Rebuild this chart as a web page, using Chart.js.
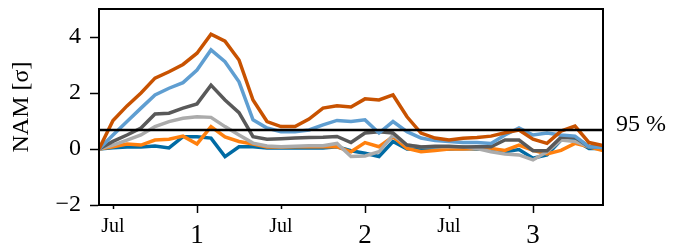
<!DOCTYPE html>
<html>
<head>
<meta charset="utf-8">
<script src="https://cdn.jsdelivr.net/npm/chart.js@4"></script>
<style>
  html, body { margin: 0; padding: 0; background: #fff; }
  canvas { display: block; }
</style>
</head>
<body>
<canvas id="nam" width="680" height="244"></canvas>
<script>
// monthly values in units of sigma, first point is June of year 0
const darkOrange = [0, 1.02, 1.54, 2.0, 2.53, 2.76, 3.02, 3.42, 4.1, 3.85, 3.18, 1.75, 0.98, 0.8, 0.8, 1.07, 1.46, 1.54, 1.5, 1.79, 1.75, 1.93, 1.15, 0.57, 0.39, 0.32, 0.38, 0.41, 0.46, 0.58, 0.68, 0.35, 0.2, 0.64, 0.82, 0.23, 0.12];
const lightBlue = [0, 0.5, 0.98, 1.46, 1.93, 2.17, 2.37, 2.82, 3.54, 3.12, 2.4, 1.04, 0.75, 0.62, 0.62, 0.68, 0.86, 1.02, 0.98, 1.04, 0.57, 0.98, 0.62, 0.39, 0.3, 0.27, 0.23, 0.23, 0.2, 0.5, 0.75, 0.5, 0.57, 0.5, 0.46, 0.08, 0.05];
const darkGray = [0, 0.27, 0.5, 0.75, 1.25, 1.28, 1.46, 1.61, 2.28, 1.75, 1.3, 0.44, 0.35, 0.37, 0.39, 0.41, 0.42, 0.45, 0.23, 0.57, 0.62, 0.57, 0.14, 0.07, 0.1, 0.1, 0.07, 0.08, 0.08, 0.32, 0.32, -0.06, -0.06, 0.42, 0.42, 0.08, 0.05];
const lightGray = [0, 0.14, 0.32, 0.5, 0.8, 0.98, 1.1, 1.15, 1.13, 0.8, 0.5, 0.21, 0.11, 0.08, 0.1, 0.12, 0.12, 0.2, -0.27, -0.25, -0.1, 0.5, 0.14, 0.08, 0.08, 0.08, 0.08, 0.02, -0.1, -0.18, -0.21, -0.39, -0.1, 0.32, 0.27, 0.08, 0.05];
const orange = [0, 0.08, 0.18, 0.14, 0.32, 0.35, 0.46, 0.18, 0.8, 0.43, 0.27, 0.18, 0.07, 0.07, 0.08, 0.08, 0.08, 0.08, -0.1, 0.23, 0.08, 0.44, 0.02, -0.1, -0.05, 0, 0, 0.02, 0.02, -0.05, 0.14, -0.05, -0.18, -0.05, 0.2, 0.08, -0.06];
const darkBlue = [0, 0.04, 0.07, 0.07, 0.11, 0.04, 0.44, 0.44, 0.39, -0.27, 0.08, 0.08, 0.04, 0.04, 0.04, 0.04, 0.04, 0.08, -0.06, -0.15, -0.27, 0.27, 0, 0, 0, 0, 0.02, 0, -0.02, -0.1, -0.02, -0.33, -0.21, 0.32, 0.32, 0.02, 0.02];

const threshold = 0.68;
const thresholdLabel = '95 %';

const xTickPos = [1, 7, 13, 19, 25, 31];
const xTickLabels = ['Jul', '1', 'Jul', '2', 'Jul', '3'];
const yTicks = [-2, 0, 2, 4];

const serif = "'Liberation Serif', 'DejaVu Serif', serif";

const toPoints = vals => vals.map((v, i) => ({ x: i, y: v }));

const series = [
  { vals: darkOrange, color: '#C85200' },
  { vals: lightBlue, color: '#5F9ED1' },
  { vals: darkGray, color: '#595959' },
  { vals: lightGray, color: '#ABABAB' },
  { vals: orange, color: '#FF800E' },
  { vals: darkBlue, color: '#006BA4' },
];

const datasets = [
  {
    data: [{ x: 0, y: threshold }, { x: darkOrange.length - 1, y: threshold }],
    borderColor: '#000',
    borderWidth: 2.5,
  },
  ...series.map(s => ({
    data: toPoints(s.vals),
    borderColor: s.color,
    borderWidth: 3.5,
  })),
];

// frame, x tick marks of two lengths and the right-hand label
const extras = {
  id: 'extras',
  afterDatasetsDraw(chart) {
    const { ctx, chartArea: a, scales } = chart;
    ctx.save();
    ctx.strokeStyle = '#000';
    ctx.lineWidth = 1.5;
    xTickPos.forEach((v, i) => {
      const x = Math.round(scales.x.getPixelForValue(v)) + 0.5;
      const len = xTickLabels[i] === 'Jul' ? 4 : 8;
      ctx.beginPath();
      ctx.moveTo(x, a.bottom);
      ctx.lineTo(x, a.bottom + len);
      ctx.stroke();
    });
    ctx.lineWidth = 2;
    ctx.strokeRect(a.left, a.top, a.right - a.left, a.bottom - a.top);
    ctx.fillStyle = '#000';
    ctx.font = '24px ' + serif;
    ctx.textBaseline = 'middle';
    ctx.textAlign = 'left';
    ctx.fillText(thresholdLabel, a.right + 13, scales.y.getPixelForValue(threshold) - 5);
    ctx.restore();
  }
};

new Chart(document.getElementById('nam'), {
  type: 'line',
  data: { datasets },
  options: {
    responsive: false,
    animation: false,
    devicePixelRatio: 1,
    layout: { padding: { top: 9, right: 77, left: 0, bottom: 0 } },
    elements: { point: { radius: 0 }, line: { tension: 0 } },
    plugins: { legend: { display: false }, tooltip: { enabled: false } },
    scales: {
      x: {
        type: 'linear',
        min: 0,
        max: darkOrange.length - 1,
        afterBuildTicks: s => { s.ticks = xTickPos.map(v => ({ value: v })); },
        afterFit: s => { s.height = 39; s.paddingLeft = 0; s.paddingRight = 0; },
        grid: { drawOnChartArea: false, drawTicks: true, tickLength: 8, tickColor: 'rgba(0,0,0,0)' },
        border: { display: true, color: '#000', width: 2 },
        ticks: {
          maxRotation: 0,
          autoSkip: false,
          padding: 7,
          color: '#000',
          font: ctx => (ctx.index % 2 === 0
            ? { family: serif, size: 20, lineHeight: 0.65 }
            : { family: serif, size: 27 }),
          callback: (v) => xTickLabels[xTickPos.indexOf(v)],
        },
      },
      y: {
        min: -2,
        max: 5,
        afterBuildTicks: s => { s.ticks = yTicks.map(v => ({ value: v })); },
        afterFit: s => { s.width = 99; s.paddingTop = 0; s.paddingBottom = 0; },
        grid: { drawOnChartArea: false, tickLength: 9, tickColor: '#000', tickWidth: 1.5 },
        border: { display: true, color: '#000', width: 2 },
        ticks: {
          padding: 9,
          color: '#000',
          font: { family: serif, size: 24 },
          callback: v => String(v).replace('-', '\u2212'),
        },
        title: {
          display: true,
          text: 'NAM [\u03C3]',
          color: '#000',
          font: { family: serif, size: 24 },
          padding: { top: 7, bottom: 0 },
        },
      },
    },
  },
  plugins: [extras],
});
</script>
</body>
</html>
